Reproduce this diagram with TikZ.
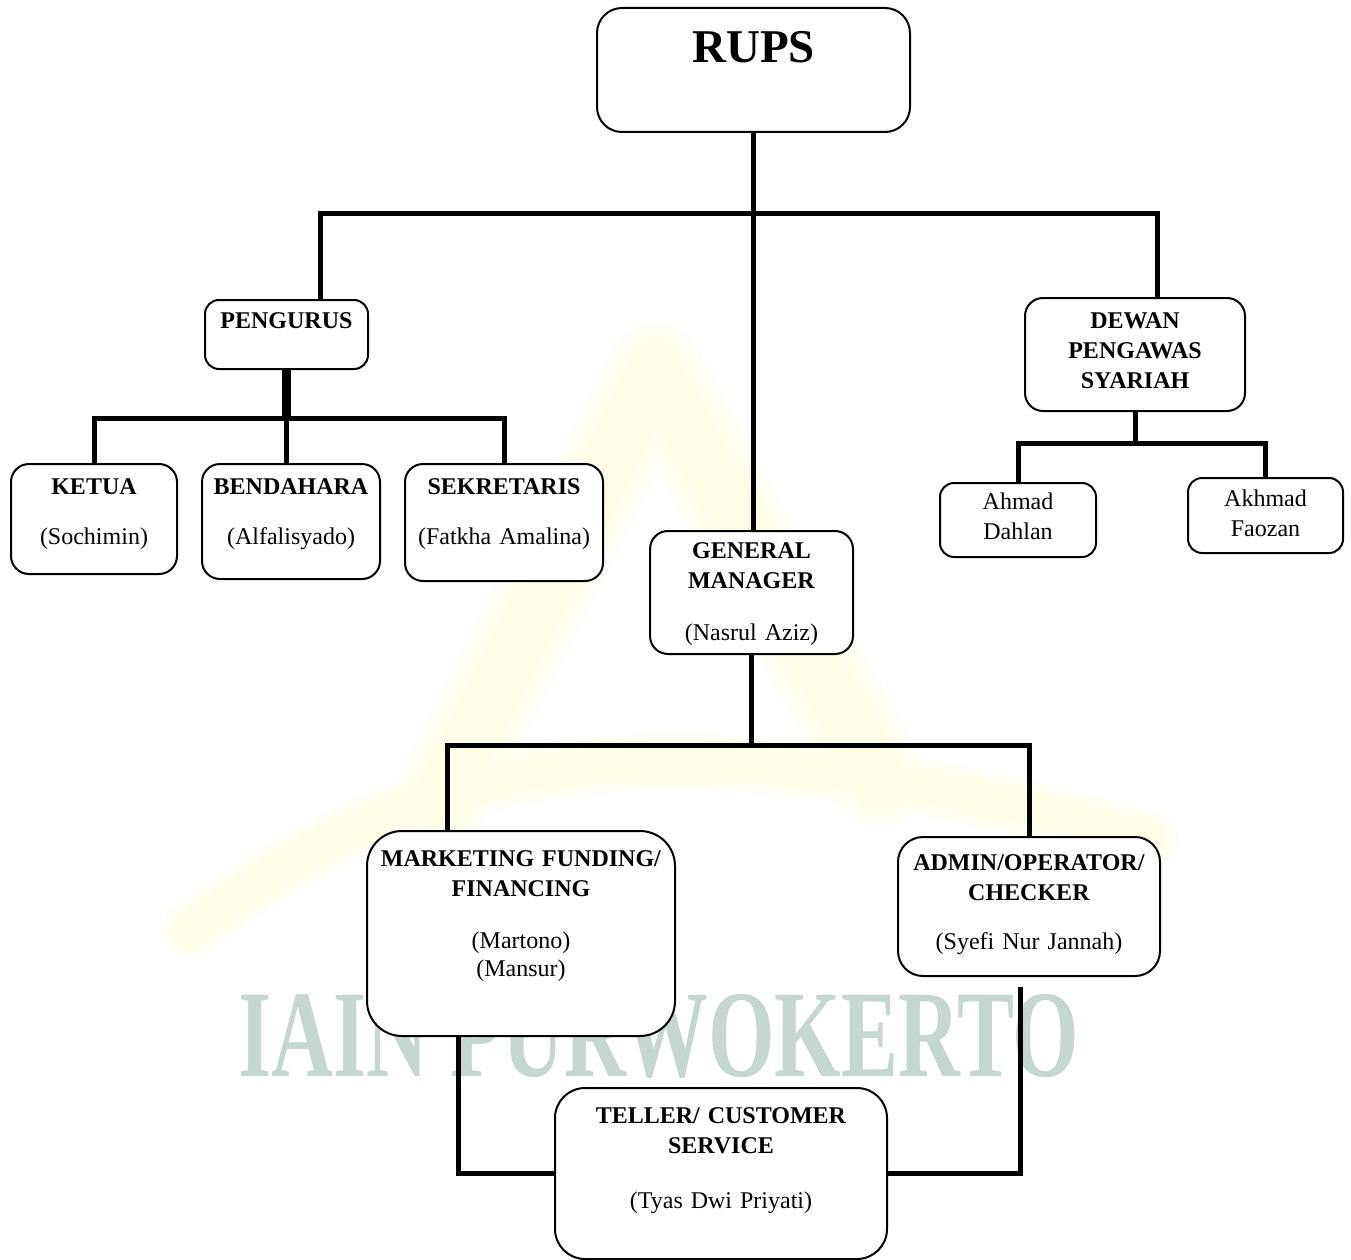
\documentclass[tikz,border=0pt]{standalone}
\usepackage{fontspec}
\setmainfont{Liberation Serif}
\usepackage{graphicx}
\usetikzlibrary{positioning, calc}

\definecolor{wmgreen}{RGB}{198, 214, 208}
\definecolor{wmyellow}{RGB}{255, 246, 140}

\tikzset{
  orgbox/.style={draw, line width=2pt, rounded corners=18pt, fill=white, align=center,
    inner sep=0pt, anchor=north, font=\fontsize{24}{30}\selectfont},
  conn/.style={line width=5pt},
  thickconn/.style={line width=9pt}
}

\begin{document}
\begin{tikzpicture}[x=1pt, y=-1pt]
  \useasboundingbox (0,0) rectangle (1351,1260);

  % watermark (soft edges from stacked strokes)
  \foreach \w/\c in {95/8, 80/12, 65/17, 50/22} {
    \draw[wmyellow!\c, line width=\w pt, line join=round, line cap=round]
      (440,800) -- (655,370) -- (880,780);
    \draw[wmyellow!\c, line width=0.6*\w pt, line cap=round]
      (190,930) .. controls (420,760) and (640,700) .. (1150,840);
  }
  \node[text=wmgreen, inner sep=0pt] (watermark) at (659,1036)
    {\scalebox{0.69}[1]{\fontsize{124}{124}\selectfont\bfseries IAIN PURWOKERTO}};

  % boxes
  \node[orgbox, rounded corners=25pt, text width=313pt, text height=55pt, text depth=69pt,
    font=\fontsize{47}{50}\selectfont\bfseries] (rups) at (753.5,7) {RUPS};
  \node[orgbox, rounded corners=14pt, text width=163pt, text height=28pt, text depth=41pt] (pengurus) at (286.5,299) {\textbf{PENGURUS}};
  \node[orgbox, text width=166pt, text height=30pt, text depth=80pt] (ketua) at (94,463)
    {\textbf{KETUA}\\[20pt](Sochimin)};
  \node[orgbox, text width=178pt, text height=30pt, text depth=85pt] (bendahara) at (291,463)
    {\textbf{BENDAHARA}\\[20pt](Alfalisyado)};
  \node[orgbox, text width=198pt, text height=30pt, text depth=87pt] (sekretaris) at (504,463)
    {\textbf{SEKRETARIS}\\[20pt](Fatkha Amalina)};
  \node[orgbox, text width=220pt, text height=30pt, text depth=83pt] (dewan) at (1135,297)
    {\textbf{DEWAN}\\\textbf{PENGAWAS}\\\textbf{SYARIAH}};
  \node[orgbox, rounded corners=14pt, text width=156pt, text height=26pt, text depth=48pt] (ahmad) at (1018,482)
    {Ahmad\\Dahlan};
  \node[orgbox, rounded corners=14pt, text width=155pt, text height=28pt, text depth=47pt] (akhmad) at (1265.5,477)
    {Akhmad\\Faozan};
  \node[orgbox, text width=203pt, text height=27pt, text depth=96pt] (gm) at (751.5,530)
    {\textbf{GENERAL}\\\textbf{MANAGER}\\[22pt](Nasrul Aziz)};
  \node[orgbox, rounded corners=35pt, text width=308pt, text height=35pt, text depth=170pt] (mf) at (521,830)
    {\textbf{MARKETING FUNDING/}\\\textbf{FINANCING}\\[22pt](Martono)\\[-2pt](Mansur)};
  \node[orgbox, rounded corners=25pt, text width=262pt, text height=33pt, text depth=106pt] (admin) at (1029,836)
    {\textbf{ADMIN/OPERATOR/}\\\textbf{CHECKER}\\[19pt](Syefi Nur Jannah)};
  \node[orgbox, rounded corners=30pt, text width=332pt, text height=35pt, text depth=136pt] (teller) at (721,1087)
    {\textbf{TELLER/ CUSTOMER}\\\textbf{SERVICE}\\[25pt](Tyas Dwi Priyati)};

  % junctions
  \coordinate (j1) at (753.5,213);
  \coordinate (j2) at (286.5,418);
  \coordinate (j3) at (1135,443);
  \coordinate (j4) at (751.5,745);

  % lines
  \draw[conn] (rups.south) -- (j1 |- gm.north);
  \draw[conn] ([xshift=33.5pt]pengurus.north) |- (j1) -| ([xshift=22pt]dewan.north);
  \draw[thickconn] (pengurus.south) -- (j2);
  \draw[conn] (ketua.north) |- (j2) -| (sekretaris.north);
  \draw[conn] (j2) -- (j2 |- bendahara.north);
  \draw[conn] (dewan.south) -- (j3);
  \draw[conn] (ahmad.north) |- (j3) -| (akhmad.north);
  \draw[conn] (gm.south) -- (j4);
  \draw[conn] ([xshift=-74pt]mf.north) |- (j4) -| (admin.north);
  \draw[conn] ([xshift=-63pt]mf.south) |- (teller.west);
  \draw[conn] ([shift={(-9pt,-10pt)}]admin.south) |- (teller.east);
\end{tikzpicture}
\end{document}
